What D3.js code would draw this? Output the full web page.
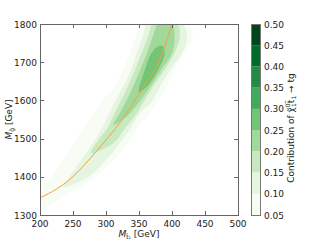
<!DOCTYPE html>
<html>
<head>
<meta charset="utf-8">
<script src="https://cdn.jsdelivr.net/npm/d3@7"></script>
<style>
  html, body { margin: 0; padding: 0; background: #fff; }
  svg text { font-family: "DejaVu Sans", sans-serif; fill: #222; }
</style>
</head>
<body>
<div id="chart"></div>
<script>
// ---- data ----
const xTicks = [200, 250, 300, 350, 400, 450, 500];
const yTicks = [1300, 1400, 1500, 1600, 1700, 1800];
const cbLevels = [0.05, 0.10, 0.15, 0.20, 0.25, 0.30, 0.35, 0.40, 0.45, 0.50];
const cbColors = ["#f7fcf5", "#e5f5e0", "#c7e9c0", "#a1d99b", "#74c476",
                  "#41ab5d", "#238b45", "#006d2c", "#00441b"];

// filled contour outlines [M_stop, M_gluino], one per level (>= 0.05 ... >= 0.25)
const contour005 = [[352,1800],[424,1800],[431,1767],[427,1745],[415,1714],[404,1680],
  [392,1636],[378,1600],[364,1562],[348,1531],[333,1488],[311,1444],[283,1400],
  [247,1358],[212,1322],[198,1313],[198,1365],[217,1399],[235,1444],[250,1488],
  [268,1530],[283,1570],[298,1606],[314,1640],[326,1680],[336,1724],[345,1766]];
const contour010 = [[362,1800],[415,1800],[423,1767],[415,1724],[397,1680],[382,1636],
  [367,1593],[353,1570],[338,1530],[321,1488],[300,1444],[273,1400],[235,1373],
  [245,1400],[262,1444],[280,1488],[295,1530],[306,1570],[318,1610],[330,1650],
  [340,1690],[348,1730],[356,1767]];
const contour015 = [[371,1800],[408,1800],[412,1767],[404,1724],[389,1680],[371,1636],
  [356,1593],[345,1562],[330,1530],[311,1488],[277,1462],[285,1488],[303,1530],
  [311,1560],[321,1593],[333,1636],[344,1680],[354,1724],[364,1767]];
const contour020 = [[379,1800],[400,1800],[404,1767],[400,1724],[384,1680],[367,1636],
  [349,1593],[331,1557],[311,1536],[321,1567],[329,1593],[341,1636],[352,1680],
  [362,1724],[371,1767]];
const contour025 = [[350,1622],[359,1680],[369,1724],[379,1742],[386,1742],[389,1724],
  [379,1680],[362,1636]];
const contours = [contour005, contour010, contour015, contour020, contour025];

// orange curve
const curveMt = [200, 225, 247, 285, 324, 357, 379, 394, 400];
const curveMg = [1345, 1368, 1396, 1466, 1549, 1636, 1697, 1767, 1800];

// ---- layout ----
const W = 320, H = 240;
const plot = { left: 40, right: 238, top: 24, bottom: 215 };
const cb = { left: 251, right: 260 };

const svg = d3.select("#chart").append("svg")
  .attr("width", W).attr("height", H);

const x = d3.scaleLinear().domain([200, 500]).range([plot.left, plot.right]);
const y = d3.scaleLinear().domain([1300, 1800]).range([plot.bottom, plot.top]);

svg.append("clipPath").attr("id", "clip")
  .append("rect")
  .attr("x", plot.left).attr("y", plot.top)
  .attr("width", plot.right - plot.left).attr("height", plot.bottom - plot.top);

const body = svg.append("g").attr("clip-path", "url(#clip)");

const area = d3.line()
  .x((d) => x(d[0]))
  .y((d) => y(d[1]))
  .curve(d3.curveCatmullRomClosed.alpha(0.5));

body.selectAll("path.level")
  .data(contours)
  .enter()
  .append("path")
  .attr("class", "level")
  .attr("d", area)
  .attr("fill", (d, i) => cbColors[i])
  .attr("stroke", "none");

const curve = d3.line()
  .x((d) => x(d[0]))
  .y((d) => y(d[1]))
  .curve(d3.curveMonotoneX);

body.append("path")
  .datum(curveMt.map((m, i) => [m, curveMg[i]]))
  .attr("d", curve)
  .attr("fill", "none")
  .attr("stroke", "#f4a043")
  .attr("stroke-width", 1);

// ---- axes (ticks inward on all sides) ----
const tickLen = 4;
const fr = svg.append("g").attr("stroke", "#666").attr("stroke-width", 1);

xTicks.forEach((t) => {
  const px = Math.round(x(t)) + 0.5;
  fr.append("line").attr("x1", px).attr("x2", px)
    .attr("y1", plot.bottom).attr("y2", plot.bottom - tickLen);
  fr.append("line").attr("x1", px).attr("x2", px)
    .attr("y1", plot.top).attr("y2", plot.top + tickLen);
});
yTicks.forEach((t) => {
  const py = Math.round(y(t)) + 0.5;
  fr.append("line").attr("y1", py).attr("y2", py)
    .attr("x1", plot.left).attr("x2", plot.left + tickLen);
  fr.append("line").attr("y1", py).attr("y2", py)
    .attr("x1", plot.right).attr("x2", plot.right - tickLen);
});

fr.append("rect")
  .attr("x", plot.left + 0.5).attr("y", plot.top + 0.5)
  .attr("width", plot.right - plot.left).attr("height", plot.bottom - plot.top)
  .attr("fill", "none");

svg.selectAll("text.xt")
  .data(xTicks)
  .enter()
  .append("text")
  .attr("class", "xt")
  .attr("x", (d) => x(d))
  .attr("y", plot.bottom + 12)
  .attr("text-anchor", "middle")
  .attr("font-size", 9)
  .text((d) => d);

svg.selectAll("text.yt")
  .data(yTicks)
  .enter()
  .append("text")
  .attr("class", "yt")
  .attr("x", plot.left - 3)
  .attr("y", (d) => y(d) + 3.5)
  .attr("text-anchor", "end")
  .attr("font-size", 9)
  .text((d) => d);

// axis titles
const xl = svg.append("text")
  .attr("x", x(350))
  .attr("y", 237)
  .attr("text-anchor", "middle")
  .attr("font-size", 9);
xl.append("tspan").attr("font-style", "italic").text("M");
xl.append("tspan").attr("font-size", 6).attr("dy", 2).text("t̃₁");
xl.append("tspan").attr("dy", -2).text(" [GeV]");

const yl = svg.append("text")
  .attr("transform", `translate(12,${y(1550)}) rotate(-90)`)
  .attr("text-anchor", "middle")
  .attr("font-size", 9);
yl.append("tspan").attr("font-style", "italic").text("M");
yl.append("tspan").attr("font-size", 6).attr("dy", 2).text("g̃");
yl.append("tspan").attr("dy", -2).text(" [GeV]");

// ---- colorbar ----
const c = d3.scaleLinear().domain([0.05, 0.50]).range([plot.bottom, plot.top]);

svg.selectAll("rect.bin")
  .data(cbColors)
  .enter()
  .append("rect")
  .attr("class", "bin")
  .attr("x", cb.left)
  .attr("width", cb.right - cb.left)
  .attr("y", (d, i) => c(cbLevels[i + 1]))
  .attr("height", (d, i) => c(cbLevels[i]) - c(cbLevels[i + 1]))
  .attr("fill", (d) => d);

svg.append("rect")
  .attr("x", cb.left + 0.5).attr("y", plot.top + 0.5)
  .attr("width", cb.right - cb.left).attr("height", plot.bottom - plot.top)
  .attr("fill", "none").attr("stroke", "#777");

svg.selectAll("text.ct")
  .data(cbLevels)
  .enter()
  .append("text")
  .attr("class", "ct")
  .attr("x", cb.right + 4)
  .attr("y", (d) => c(d) + 3.5)
  .attr("font-size", 9)
  .text((d) => d.toFixed(2));

const cl = svg.append("text")
  .attr("transform", `translate(294,128) rotate(-90)`)
  .attr("text-anchor", "middle")
  .attr("font-size", 9);
cl.append("tspan").text("Contribution of ");
cl.append("tspan").text("χ̃");
cl.append("tspan").attr("font-size", 6).attr("dy", -4).text("0");
cl.append("tspan").attr("font-size", 6).attr("dx", -3.5).attr("dy", 6).text("1");
cl.append("tspan").attr("dy", -2).text("t̃");
cl.append("tspan").attr("font-size", 6).attr("dy", 2).text("1");
cl.append("tspan").attr("dy", -2).text(" → tg");
</script>
</body>
</html>
